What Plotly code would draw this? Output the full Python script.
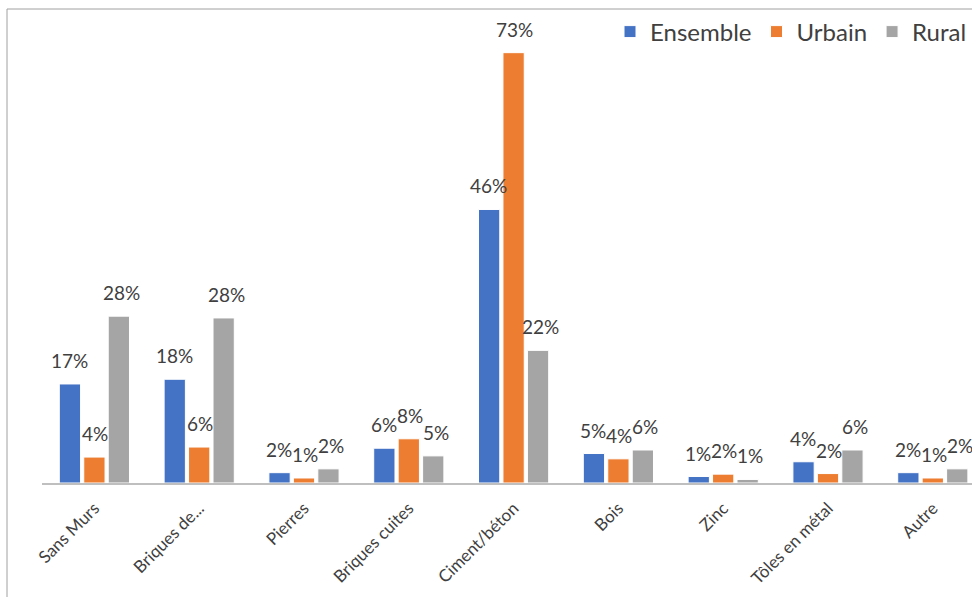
import plotly.graph_objects as go

categories = ["Sans Murs", "Briques de...", "Pierres", "Briques cuites", "Ciment/béton",
              "Bois", "Zinc", "Tôles en métal", "Autre"]
ensemble = [16.8, 17.6, 1.75, 5.9, 46.4, 5.0, 1.1, 3.6, 1.75]
urbain = [4.4, 6.1, 0.85, 7.5, 73.0, 4.1, 1.5, 1.6, 0.85]
rural = [28.3, 28.0, 2.4, 4.6, 22.5, 5.6, 0.6, 5.6, 2.4]
series = [("Ensemble", ensemble, "#4472C4"), ("Urbain", urbain, "#ED7D31"), ("Rural", rural, "#A5A5A5")]

FONT = "Lato"
L, T, B, R = 42, 15, 114, 0
W, H = 972, 597
pw, ph = W - L - R, H - T - B
CAT_PX = 104.8
x_hi = -0.5 + pw / CAT_PX
y_hi = ph / 5.895

def px_x(p):
    return (p - L) / pw

def px_y(p):
    return (H - B - p) / ph

fig = go.Figure()
annotations = []
shifts = [-26, 0, 26]
for (name, vals, col), sh in zip(series, shifts):
    fig.add_trace(go.Bar(
        x=categories, y=vals, name=name,
        marker=dict(color=col, line=dict(color="white", width=1)),
    ))
    for c, v in zip(categories, vals):
        annotations.append(dict(
            x=c, y=v, xref="x", yref="y", text=f"{round(v):.0f}%", showarrow=False,
            xanchor="center", yanchor="bottom", xshift=sh + 1, yshift=10,
            font=dict(family=FONT, size=19, color="#404040"),
        ))

fig.update_layout(
    width=W, height=H,
    margin=dict(l=L, r=R, t=T, b=B),
    plot_bgcolor="white", paper_bgcolor="white",
    barmode="group", bargap=0.30, bargroupgap=0.13,
    font=dict(family=FONT, color="#404040"),
    showlegend=True,
    legend=dict(orientation="h", x=1.0, xanchor="right", y=px_y(32), yanchor="middle",
                font=dict(family=FONT, size=24, color="#404040"),
                itemwidth=30, bgcolor="rgba(0,0,0,0)", traceorder="normal"),
    xaxis=dict(tickangle=-45, tickfont=dict(family=FONT, size=17, color="#404040"),
               range=[-0.5, x_hi], ticklabelstandoff=7,
               showline=True, linecolor="#BFBFBF", linewidth=1.5, ticks="", showgrid=False),
    yaxis=dict(range=[0, y_hi], visible=False, showgrid=False),
    annotations=annotations,
    shapes=[
        dict(type="line", xref="paper", yref="paper", x0=px_x(7), x1=px_x(7),
             y0=px_y(9), y1=px_y(600), line=dict(color="#A0A0A0", width=1)),
        dict(type="line", xref="paper", yref="paper", x0=px_x(7), x1=px_x(975),
             y0=px_y(9), y1=px_y(9), line=dict(color="#A0A0A0", width=1)),
    ],
)
fig.write_html("out.html", config={"displayModeBar": False},
               post_script="document.body.style.margin='0px';")
